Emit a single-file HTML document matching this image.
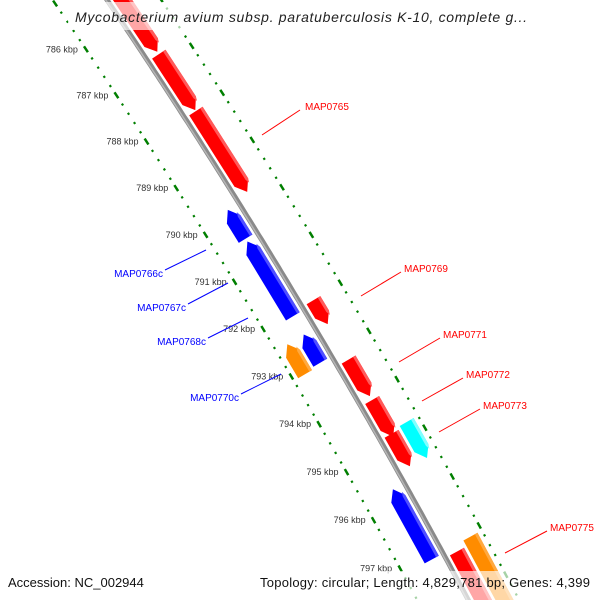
<!DOCTYPE html>
<html><head><meta charset="utf-8"><style>
html,body{margin:0;padding:0;background:#fff;width:600px;height:600px;overflow:hidden;}
svg{display:block;font-family:"Liberation Sans",sans-serif;overflow:hidden;}
</style></head><body>
<svg id="map" width="600" height="600" viewBox="0 0 600 600" xmlns="http://www.w3.org/2000/svg">
<g id="ticks"></g>
<path id="backbone" fill="none" stroke="#8a8a8a" stroke-width="5"/>
<path id="backbone2" fill="none" stroke="#b5b5b5" stroke-width="1.5"/>
<g id="genes"></g>
<g id="labels">
 <line x1="300" y1="110" x2="262" y2="135" stroke="#f00" stroke-width="1"/>
 <text x="305" y="110" fill="#f00" font-size="10">MAP0765</text>
 <line x1="401" y1="272" x2="361" y2="296" stroke="#f00" stroke-width="1"/>
 <text x="404" y="272" fill="#f00" font-size="10">MAP0769</text>
 <line x1="440" y1="338" x2="399" y2="362" stroke="#f00" stroke-width="1"/>
 <text x="443" y="338" fill="#f00" font-size="10">MAP0771</text>
 <line x1="463" y1="378" x2="422" y2="401" stroke="#f00" stroke-width="1"/>
 <text x="466" y="378" fill="#f00" font-size="10">MAP0772</text>
 <line x1="480" y1="409" x2="439" y2="432" stroke="#f00" stroke-width="1"/>
 <text x="483" y="409" fill="#f00" font-size="10">MAP0773</text>
 <line x1="547" y1="531" x2="505" y2="553" stroke="#f00" stroke-width="1"/>
 <text x="550" y="531" fill="#f00" font-size="10">MAP0775</text>
 <line x1="165" y1="270" x2="206" y2="250" stroke="#00f" stroke-width="1"/>
 <text x="163" y="277" fill="#00f" font-size="10" text-anchor="end">MAP0766c</text>
 <line x1="188" y1="304" x2="228" y2="283" stroke="#00f" stroke-width="1"/>
 <text x="186" y="311" fill="#00f" font-size="10" text-anchor="end">MAP0767c</text>
 <line x1="208" y1="338" x2="248" y2="318" stroke="#00f" stroke-width="1"/>
 <text x="206" y="345" fill="#00f" font-size="10" text-anchor="end">MAP0768c</text>
 <line x1="241" y1="394" x2="281" y2="374" stroke="#00f" stroke-width="1"/>
 <text x="239" y="401" fill="#00f" font-size="10" text-anchor="end">MAP0770c</text>
</g>
<rect x="68" y="2" width="470" height="28" fill="#fff" opacity="0.65"/>
<text x="75" y="22" font-size="14" font-style="italic" fill="#222" textLength="452" lengthAdjust="spacing">Mycobacterium avium subsp. paratuberculosis K-10, complete g...</text>
<rect x="0" y="571" width="600" height="29" fill="#fff" opacity="0.65"/>
<text x="8" y="587" font-size="13" fill="#111">Accession: NC_002944</text>
<text x="260" y="587" font-size="13" fill="#111" textLength="330" lengthAdjust="spacing">Topology: circular; Length: 4,829,781 bp; Genes: 4,399</text>
</svg>
<script>
// ---- data ----
const geneNames  = ["MAP0763","MAP0764","MAP0765","MAP0766c","MAP0767c","MAP0768c","MAP0770c","MAP0769","MAP0771","MAP0772","MAP0773","MAP0773b","MAP0774c","MAP0774","MAP0775"];
const geneStart  = [785.0, 786.80, 788.02, 789.83, 790.50, 792.46, 792.46, 792.02, 793.26, 794.10, 794.80, 794.75, 795.68, 797.22, 797.10];
const geneEnd    = [786.75,788.00, 789.74, 790.44, 792.08, 793.05, 793.09, 792.52, 794.02, 794.86, 795.47, 795.49, 797.13, 798.6, 798.7];
const geneStrand = [1,1,1,-1,-1,-1,-1,1,1,1,1,1,-1,1,1];
const geneLane   = [1,1,1,1,1,1,2,1,1,1,1,2,1,1,2];
const geneColor  = ["red","red","red","blue","blue","blue","orange","red","red","red","red","cyan","blue","red","orange"];
const tickKbp    = [786,787,788,789,790,791,792,793,794,795,796,797];
const tickLabels = ["786 kbp","787 kbp","788 kbp","789 kbp","790 kbp","791 kbp","792 kbp","793 kbp","794 kbp","795 kbp","796 kbp","797 kbp"];

// ---- geometry ----
const CX=-5533, CY=3804, R=6803, K0=785.47, DEG=0.468;
function th(k){return (-34.0+(k-K0)*DEG)*Math.PI/180;}
function P(k,off){const t=th(k);return [CX+(R+off)*Math.cos(t), CY+(R+off)*Math.sin(t)];}
function tan(k){const t=th(k);return [-Math.sin(t),Math.cos(t)];}
const NS="http://www.w3.org/2000/svg";
const colors={red:["#ff0000","#ff5a5a"],blue:["#0000ff","#5050ff"],orange:["#ff8c00","#ffa940"],cyan:["#00ffff","#80ffff"]};

let d="";
for(let k=784.5;k<=799;k+=0.1){const p=P(k,0);d+=(d?"L":"M")+p[0].toFixed(1)+","+p[1].toFixed(1);}
document.getElementById("backbone").setAttribute("d",d);
let d2="";
for(let k=784.5;k<=799;k+=0.1){const p=P(k,-1);d2+=(d2?"L":"M")+p[0].toFixed(1)+","+p[1].toFixed(1);}
document.getElementById("backbone2").setAttribute("d",d2);

const tg=document.getElementById("ticks");
function seg(k,off,len,w,name){
  const p=P(k,off),t=tan(k);
  const l=document.createElementNS(NS,"line");
  l.setAttribute("x1",p[0]-t[0]*len/2);l.setAttribute("y1",p[1]-t[1]*len/2);
  l.setAttribute("x2",p[0]+t[0]*len/2);l.setAttribute("y2",p[1]+t[1]*len/2);
  l.setAttribute("stroke","#007f00");l.setAttribute("stroke-width",w);
  
  
  tg.appendChild(l);
}
for(let i=0;i<=80;i++){
  const k=784+i*0.2;
  const major=Math.abs(k-Math.round(k))<0.01;
  [-45,45].forEach(off=>{
    if(major) seg(k,off,7,2.5,"tick-major");
    else seg(k,off,2.2,2.2,"tick-minor");
  });
}
tickKbp.forEach((k,i)=>{
  const p=P(k,-45);
  const t=document.createElementNS(NS,"text");
  t.setAttribute("x",(p[0]-8).toFixed(1));t.setAttribute("y",(p[1]+3).toFixed(1));
  t.setAttribute("text-anchor","end");t.setAttribute("font-size","9");t.setAttribute("fill","#333");
  t.textContent=tickLabels[i];
  
  
  tg.appendChild(t);
});

const gg=document.getElementById("genes");
function poly(pts,fill,name){
  const e=document.createElementNS(NS,"polygon");
  e.setAttribute("points",pts.map(p=>p[0].toFixed(1)+","+p[1].toFixed(1)).join(" "));
  e.setAttribute("fill",fill);
  
  
  gg.appendChild(e);
}
geneNames.forEach((n,i)=>{
  const s=geneStrand[i], lane=geneLane[i];
  const a=(lane===1?5:24), b=(lane===1?21:40);
  const r1=s*a, r2=s*b, rm=(r1+r2)/2;
  const k1=geneStart[i], k2=geneEnd[i], h=Math.min(0.2,(k2-k1)/2);
  let pts;
  if(s>0) pts=[P(k1,r1),P(k1,r2),P(k2-h,r2),P(k2,rm),P(k2-h,r1)];
  else pts=[P(k1,rm),P(k1+h,r2),P(k2,r2),P(k2,r1),P(k1+h,r1)];
  const c=colors[geneColor[i]];
  poly(pts,c[0],"gene-"+n.toLowerCase());
  const hi=Math.max(r1,r2), lo=hi-3;
  let sp;
  if(s>0) sp=[P(k1,lo),P(k1,hi),P(k2-h,hi),P(k2-h*0.6,hi-1.5),P(k2-h,lo)];
  else sp=[P(k1+h*0.6,hi-1.5),P(k1+h,hi),P(k2,hi),P(k2,lo),P(k1+h,lo)];
  poly(sp,c[1],"gene-"+n.toLowerCase()+"-shade");
});
</script>
</body></html>
